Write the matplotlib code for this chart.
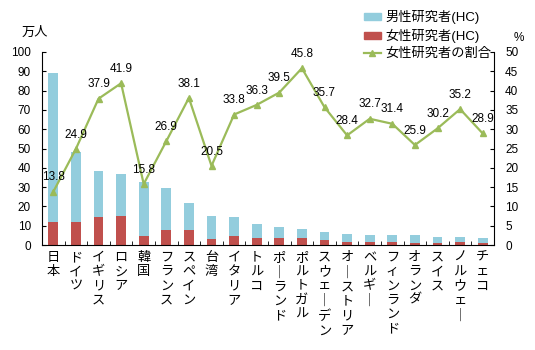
import matplotlib.pyplot as plt
from matplotlib.patches import Patch
from matplotlib.lines import Line2D
import numpy as np

plt.rcParams['font.family'] = ['Liberation Sans', 'Noto Sans CJK JP']

countries = ["日本", "ドイツ", "イギリス", "ロシア", "韓国", "フランス", "スペイン", "台湾",
             "イタリア", "トルコ", "ポーランド", "ポルトガル", "スウェーデン", "オーストリア",
             "ベルギー", "フィンランド", "オランダ", "スイス", "ノルウェー", "チェコ"]
total = [89.3, 48.3, 38.3, 36.8, 32.6, 29.5, 21.9, 15.1, 14.4, 11.0,
         9.3, 8.3, 6.9, 5.7, 5.0, 5.0, 5.0, 4.3, 4.3, 3.8]
female = [12.0, 11.7, 14.3, 15.1, 4.9, 7.7, 8.0, 2.9, 4.9, 3.7,
          3.5, 3.8, 2.4, 1.3, 1.4, 1.3, 1.1, 1.1, 1.3, 0.9]
ratio = [13.8, 24.9, 37.9, 41.9, 15.8, 26.9, 38.1, 20.5, 33.8, 36.3,
         39.5, 45.8, 35.7, 28.4, 32.7, 31.4, 25.9, 30.2, 35.2, 28.9]

male = [t - f for t, f in zip(total, female)]
blue = "#93CDDD"
red = "#C0504D"
green = "#9BBB59"

fig = plt.figure(figsize=(5.35, 3.5), dpi=100)
ax = fig.add_axes([42 / 535, 1 - 245 / 350, 452 / 535, 193 / 350])
x = np.arange(len(countries))
ax.bar(x, female, width=0.44, color=red, zorder=2)
ax.bar(x, male, width=0.44, bottom=female, color=blue, zorder=2)
ax.set_xlim(-0.5, len(countries) - 0.5)
ax.set_ylim(0, 100)
ax.set_yticks(range(0, 101, 10))
ax.tick_params(axis='y', direction='in', length=3, labelsize=8.5, pad=8)
ax.set_xticks(x)
ax.set_xticklabels(["\n".join(c.replace("ー", "｜")) for c in countries],
                   fontsize=9.5, linespacing=1.25, va='top')
ax.set_xticks(np.arange(-0.5, len(countries)), minor=True)
ax.tick_params(axis='x', which='major', length=0, pad=5)
ax.tick_params(axis='x', which='minor', direction='in', length=3)
ax.spines['top'].set_visible(False)
ax.spines['right'].set_visible(False)

ax2 = ax.twinx()
ax2.plot(x, ratio, color=green, lw=1.6, marker='^', markersize=5, zorder=3)
ax2.set_ylim(0, 50)
ax2.set_yticks(range(0, 51, 5))
ax2.tick_params(axis='y', direction='in', length=3, labelsize=8.5, pad=8)
ax2.spines['top'].set_visible(False)
ax2.spines['left'].set_visible(False)
ax2.spines['bottom'].set_visible(False)
for xi, r in zip(x, ratio):
    ax2.annotate(f"{r}", (xi, r), xytext=(0, 6), textcoords='offset points',
                 ha='center', va='bottom', fontsize=8.5)

fig.text(35 / 535, 1 - 33 / 350, "万人", ha='center', va='center', fontsize=9.5)
fig.text(519 / 535, 1 - 38 / 350, "%", ha='center', va='center', fontsize=8.5)

handles = [Patch(color=blue), Patch(color=red),
           Line2D([], [], color=green, lw=1.6, marker='^', markersize=5)]
labels = ["男性研究者(HC)", "女性研究者(HC)", "女性研究者の割合"]
fig.legend(handles, labels, loc='upper right', bbox_to_anchor=(491 / 535, 1 - 10 / 350),
           frameon=False, fontsize=9.5, handlelength=1.3, handleheight=0.45,
           handletextpad=0.3, labelspacing=0.35, borderaxespad=0, borderpad=0)

fig.savefig("out.png", dpi=100)
